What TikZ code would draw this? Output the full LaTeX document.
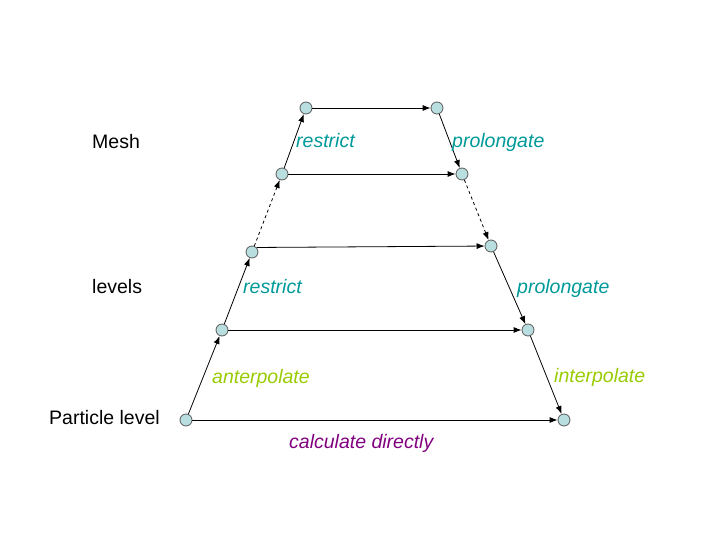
\documentclass[tikz,border=0pt]{standalone}
\usepackage{fontspec}
\setmainfont{Liberation Sans}
\usetikzlibrary{arrows.meta}
\definecolor{dotblue}{RGB}{185,222,224}
\definecolor{tealtext}{RGB}{0,153,153}
\definecolor{limetext}{RGB}{153,204,0}
\definecolor{purpletext}{RGB}{128,0,128}

\begin{document}
\begin{tikzpicture}[x=1pt,y=-1pt]
        % Styles: nut tron, mui ten, chu
        \tikzstyle{dot} = [
            circle,
            draw=black!65,
            fill=dotblue,
            line width=0.8pt,
            minimum size=12pt,
            inner sep=0pt
        ]
        \tikzstyle{link} = [black, line width=0.8pt, -{Latex[length=8pt, width=6pt]}]
        \tikzstyle{lbl} = [anchor=base west, inner sep=0pt, font=\fontsize{19.5}{23}\selectfont]
        \tikzstyle{op} = [lbl, font=\fontsize{19.5}{23}\selectfont\itshape]

        \useasboundingbox (0,0) rectangle (720,540);

        % Cac nut ben trai (di len)
        \node[dot] (L1) at (186,420) {};
        \node[dot] (L2) at (222,330) {};
        \node[dot] (L3) at (252,252) {};
        \node[dot] (L4) at (282,174) {};
        \node[dot] (L5) at (306,108) {};

        % Cac nut ben phai (di xuong)
        \node[dot] (R5) at (437,108) {};
        \node[dot] (R4) at (462,174) {};
        \node[dot] (R3) at (491,246) {};
        \node[dot] (R2) at (528,330) {};
        \node[dot] (R1) at (564,420) {};

        % Mui ten ngang
        \draw[link] (L1) -- (R1);
        \draw[link] (L2) -- (R2);
        \draw[link] (L3.north east) -- (R3);
        \draw[link] (L4) -- (R4);
        \draw[link] (L5) -- (R5);

        % Mui ten len va xuong
        \draw[link] (L1) -- (L2);
        \draw[link] (L2) -- (L3);
        \draw[link, dashed] (L3) -- (L4);
        \draw[link] (L4) -- (L5);
        \draw[link] (R5) -- (R4);
        \draw[link, dashed] (R4) -- (R3);
        \draw[link] (R3) -- (R2);
        \draw[link] (R2) -- (R1);

        % Nhan ben trai
        \node[lbl] (mesh) at (92,149) {Mesh};
        \node[lbl] (levels) at (92,293) {levels};
        \node[lbl] (particle) at (49,424) {Particle level};

        % Nhan cac phep toan
        \node[op, tealtext] (restrictA) at (296,148) {restrict};
        \node[op, tealtext] (prolongA) at (452,148) {prolongate};
        \node[op, tealtext] (restrictB) at (243,293) {restrict};
        \node[op, tealtext] (prolongB) at (517,293) {prolongate};
        \node[op, limetext] (anter) at (212,383) {anterpolate};
        \node[op, limetext] (inter) at (554,382) {interpolate};
        \node[op, purpletext] (direct) at (289,448) {calculate directly};

    \end{tikzpicture}
\end{document}
